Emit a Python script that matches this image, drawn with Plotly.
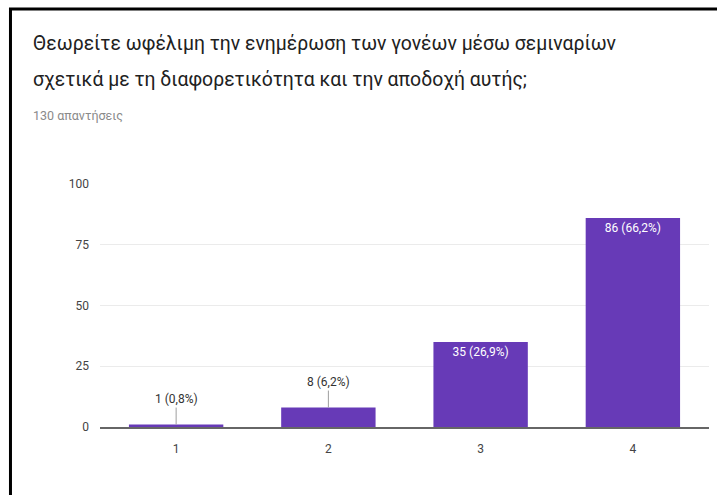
import plotly.graph_objects as go

# Στοιχεία ερώτησης
title_lines = [
    'Θεωρείτε ωφέλιμη την ενημέρωση των γονέων μέσω σεμιναρίων',
    'σχετικά με τη διαφορετικότητα και την αποδοχή αυτής;',
]
subtitle = '130 απαντήσεις'

categories = ['1', '2', '3', '4']
counts = [1, 8, 35, 86]
percents = ['0,8%', '6,2%', '26,9%', '66,2%']
y_ticks = [0, 25, 50, 75, 100]

COLORS = {
    'bar': '#673ab7',
    'title': '#212121',
    'sub': '#8a8a8a',
    'tick': '#444444',
    'grid': '#ebebeb',
    'axis': '#666666',
}

labels = [f'{c} ({p})' for c, p in zip(counts, percents)]
inside = [c >= 20 for c in counts]

fig = go.Figure()

fig.add_trace(go.Bar(
    x=categories,
    y=counts,
    marker=dict(color=COLORS['bar'], line=dict(width=0)),
    text=[l if i else '' for l, i in zip(labels, inside)],
    textposition='inside',
    insidetextanchor='end',
    textangle=0,
    textfont=dict(color='white', size=12, family='Roboto'),
    hovertemplate='%{x}: %{y}<extra></extra>',
))

# μικρές τιμές: ετικέτα πάνω από τη στήλη με γραμμή οδηγό
for idx, (c, l, i) in enumerate(zip(counts, labels, inside)):
    if i:
        continue
    fig.add_annotation(
        x=idx, y=c, xref='x', yref='y',
        text=l, showarrow=True, arrowhead=0, arrowwidth=1,
        arrowcolor='#9e9e9e', ax=0, ay=-17,
        font=dict(size=12, color='#333333', family='Roboto'),
        yanchor='bottom',
    )

# τίτλος και υπότιτλος
fig.add_annotation(text=title_lines[0], xref='paper', yref='paper',
                   x=-0.113, y=1.58, xanchor='left', yanchor='middle',
                   showarrow=False,
                   font=dict(size=19.4, color=COLORS['title'], family='Roboto'))
fig.add_annotation(text=title_lines[1], xref='paper', yref='paper',
                   x=-0.113, y=1.43, xanchor='left', yanchor='middle',
                   showarrow=False,
                   font=dict(size=19.4, color=COLORS['title'], family='Roboto'))
fig.add_annotation(text=subtitle, xref='paper', yref='paper',
                   x=-0.113, y=1.28, xanchor='left', yanchor='middle',
                   showarrow=False,
                   font=dict(size=12.5, color=COLORS['sub'], family='Roboto'))

# μαύρο περίγραμμα: φαίνονται μόνο η πάνω και η αριστερή πλευρά
fig.add_shape(type='rect', xref='paper', yref='paper',
              x0=-0.147, x1=1.2, y0=-0.5, y1=1.72,
              line=dict(color='black', width=3), layer='above')

fig.update_xaxes(
    showgrid=False,
    showline=True, linecolor=COLORS['axis'], linewidth=2,
    ticks='', tickfont=dict(size=12, color=COLORS['tick'], family='Roboto'),
    ticklabelstandoff=10,
)
fig.update_yaxes(
    range=[0, 100], tickvals=y_ticks,
    showgrid=True, gridcolor=COLORS['grid'], gridwidth=1,
    zeroline=False, showline=False, ticks='',
    tickfont=dict(size=12, color=COLORS['tick'], family='Roboto'),
    ticklabelstandoff=10,
)

fig.update_layout(
    width=717, height=495,
    margin=dict(l=100, r=8, t=184, b=68, autoexpand=False),
    paper_bgcolor='white', plot_bgcolor='white',
    bargap=0.38, showlegend=False,
    font=dict(family='Roboto'),
)

# χωρίς περιθώριο σελίδας, ώστε το σχήμα να γεμίζει το παράθυρο
fig.write_html('out.html', config={'displayModeBar': False},
               post_script="document.body.style.margin='0';"
                           "document.body.style.overflow='hidden';"
                           "document.documentElement.style.overflow='hidden';")
